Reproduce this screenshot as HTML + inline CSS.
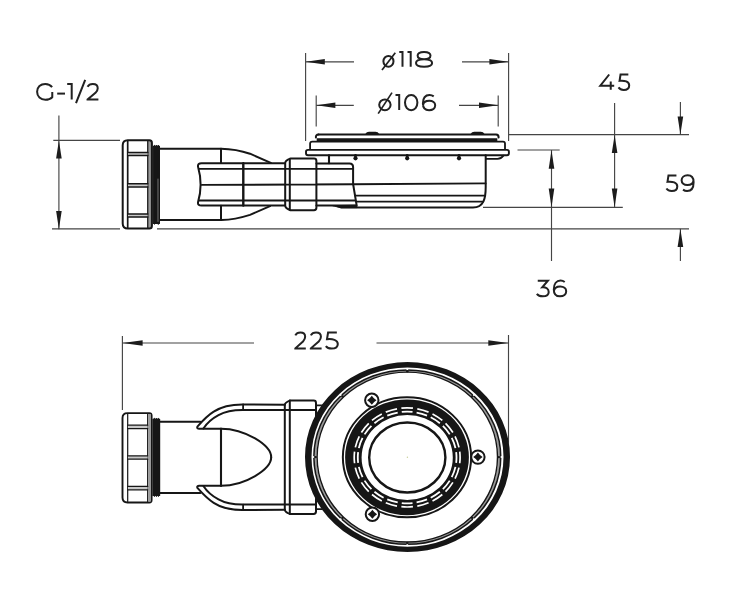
<!DOCTYPE html>
<html><head><meta charset="utf-8"><title>Drawing</title>
<style>html,body{margin:0;padding:0;background:#fff}svg{display:block}text{font-family:"Liberation Sans",sans-serif}</style>
</head><body>
<svg width="732" height="600" viewBox="0 0 732 600">
<defs><filter id="soft" x="0" y="0" width="732" height="600" filterUnits="userSpaceOnUse"><feGaussianBlur stdDeviation="0.45"/></filter></defs>
<rect width="732" height="600" fill="#fff"/>
<g filter="url(#soft)">
<rect width="732" height="600" fill="#fff"/>
<path d="M 52.11,87.06 C 50.53,85.01 48.16,83.90 45.32,83.90 C 40.58,83.90 37.10,87.06 37.10,91.80 C 37.10,96.54 40.58,99.70 45.32,99.70 C 48.16,99.70 50.69,98.75 52.27,97.17 V 92.12" fill="none" stroke="#202020" stroke-width="2.0" stroke-linejoin="miter" stroke-linecap="butt"/>
<line x1="57.2" y1="93.6" x2="65" y2="93.6" stroke="#202020" stroke-width="2.0"/>
<path d="M 67.20,84.10 H 71.70 V 99.60" fill="none" stroke="#202020" stroke-width="2.0" stroke-linejoin="miter" stroke-linecap="butt"/>
<line x1="76" y1="103.2" x2="85.2" y2="79.8" stroke="#202020" stroke-width="2.0"/>
<path d="M 87.54,86.73 C 88.54,84.84 90.34,83.90 92.80,83.90 C 95.71,83.90 97.73,85.47 97.73,88.14 C 97.73,89.87 97.06,91.12 95.49,92.85 L 87.54,99.44 V 99.60 H 98.40" fill="none" stroke="#202020" stroke-width="2.0" stroke-linejoin="miter" stroke-linecap="butt"/>
<ellipse cx="388.45" cy="61.3" rx="5.050000000000011" ry="5.400000000000002" fill="none" stroke="#202020" stroke-width="2.0"/><line x1="382" y1="70" x2="395.3" y2="52.8" stroke="#202020" stroke-width="1.7"/>
<path d="M 399.30,52.00 H 402.50 V 66.70" fill="none" stroke="#202020" stroke-width="2.0" stroke-linejoin="miter" stroke-linecap="butt"/>
<path d="M 407.50,52.00 H 410.70 V 66.70" fill="none" stroke="#202020" stroke-width="2.0" stroke-linejoin="miter" stroke-linecap="butt"/>
<path d="M 424.05,51.90 C 427.91,51.90 430.49,53.39 430.49,55.62 C 430.49,57.86 427.91,59.20 424.05,59.20 C 420.19,59.20 417.61,57.86 417.61,55.62 C 417.61,53.39 420.19,51.90 424.05,51.90 Z M 424.05,59.20 C 428.88,59.20 432.10,60.54 432.10,63.07 C 432.10,65.46 428.88,66.80 424.05,66.80 C 419.22,66.80 416.00,65.46 416.00,63.07 C 416.00,60.54 419.22,59.20 424.05,59.20 Z" fill="none" stroke="#202020" stroke-width="2.0" stroke-linejoin="miter" stroke-linecap="butt"/>
<ellipse cx="384.9" cy="104.80000000000001" rx="5.700000000000017" ry="5.399999999999999" fill="none" stroke="#202020" stroke-width="2.0"/><line x1="378.2" y1="113.6" x2="392" y2="92.6" stroke="#202020" stroke-width="1.7"/>
<path d="M 395.50,95.10 H 399.20 V 110.10" fill="none" stroke="#202020" stroke-width="2.0" stroke-linejoin="miter" stroke-linecap="butt"/>
<path d="M 411.20,95.00 C 414.67,95.00 417.40,98.04 417.40,102.60 C 417.40,107.16 414.67,110.20 411.20,110.20 C 407.73,110.20 405.00,107.16 405.00,102.60 C 405.00,98.04 407.73,95.00 411.20,95.00 Z" fill="none" stroke="#202020" stroke-width="2.0" stroke-linejoin="miter" stroke-linecap="butt"/>
<path d="M 433.72,96.37 C 432.49,95.46 431.02,95.00 429.54,95.00 C 425.61,95.00 422.90,98.04 422.90,103.51 C 422.90,107.77 425.36,110.20 429.05,110.20 C 432.74,110.20 435.20,108.22 435.20,105.34 C 435.20,102.60 432.74,100.78 429.30,100.78 C 425.85,100.78 423.27,102.60 423.02,105.34" fill="none" stroke="#202020" stroke-width="2.0" stroke-linejoin="miter" stroke-linecap="butt"/>
<path d="M 609.20,74.50 L 600.30,85.67 H 614.20 M 610.73,81.39 V 89.80" fill="none" stroke="#202020" stroke-width="2.0" stroke-linejoin="miter" stroke-linecap="butt"/>
<path d="M 628.34,74.50 H 620.53 L 619.57,80.81 C 624.49,80.20 629.20,81.58 629.20,85.43 C 629.20,88.36 626.85,89.90 623.64,89.90 C 621.50,89.90 619.57,88.98 618.50,87.44" fill="none" stroke="#202020" stroke-width="2.0" stroke-linejoin="miter" stroke-linecap="butt"/>
<path d="M 676.43,175.40 H 668.47 L 667.49,181.80 C 672.50,181.17 677.30,182.58 677.30,186.48 C 677.30,189.44 674.90,191.00 671.63,191.00 C 669.45,191.00 667.49,190.06 666.40,188.50" fill="none" stroke="#202020" stroke-width="2.0" stroke-linejoin="miter" stroke-linecap="butt"/>
<path d="M 683.04,189.59 C 684.24,190.53 685.68,191.00 687.12,191.00 C 690.96,191.00 693.60,187.86 693.60,182.21 C 693.60,177.81 691.20,175.30 687.60,175.30 C 684.00,175.30 681.60,177.34 681.60,180.32 C 681.60,183.15 684.00,185.03 687.36,185.03 C 690.72,185.03 693.24,183.15 693.48,180.32" fill="none" stroke="#202020" stroke-width="2.0" stroke-linejoin="miter" stroke-linecap="butt"/>
<path d="M 537.75,280.70 H 547.87 L 542.27,287.25 C 545.84,286.94 548.70,288.66 548.70,291.93 C 548.70,294.74 546.08,296.30 542.75,296.30 C 540.13,296.30 537.99,295.36 536.80,293.80" fill="none" stroke="#202020" stroke-width="2.0" stroke-linejoin="miter" stroke-linecap="butt"/>
<path d="M 564.71,282.01 C 563.47,281.07 561.98,280.60 560.50,280.60 C 556.53,280.60 553.80,283.74 553.80,289.39 C 553.80,293.79 556.28,296.30 560.00,296.30 C 563.72,296.30 566.20,294.26 566.20,291.28 C 566.20,288.45 563.72,286.57 560.25,286.57 C 556.78,286.57 554.17,288.45 553.92,291.28" fill="none" stroke="#202020" stroke-width="2.0" stroke-linejoin="miter" stroke-linecap="butt"/>
<path d="M 295.32,335.38 C 296.30,333.46 298.02,332.50 300.40,332.50 C 303.21,332.50 305.15,334.10 305.15,336.82 C 305.15,338.58 304.50,339.86 302.99,341.62 L 295.32,348.34 V 348.50 H 305.80" fill="none" stroke="#202020" stroke-width="2.0" stroke-linejoin="miter" stroke-linecap="butt"/>
<path d="M 310.83,335.38 C 311.83,333.46 313.61,332.50 316.05,332.50 C 318.94,332.50 320.93,334.10 320.93,336.82 C 320.93,338.58 320.27,339.86 318.71,341.62 L 310.83,348.34 V 348.50 H 321.60" fill="none" stroke="#202020" stroke-width="2.0" stroke-linejoin="miter" stroke-linecap="butt"/>
<path d="M 336.84,332.60 H 328.08 L 327.00,339.16 C 332.52,338.52 337.80,339.96 337.80,343.96 C 337.80,347.00 335.16,348.60 331.56,348.60 C 329.16,348.60 327.00,347.64 325.80,346.04" fill="none" stroke="#202020" stroke-width="2.0" stroke-linejoin="miter" stroke-linecap="butt"/>
<line x1="58.9" y1="115.4" x2="58.9" y2="229.3" stroke="#454545" stroke-width="1.15" />
<line x1="53.3" y1="140.4" x2="120" y2="140.4" stroke="#454545" stroke-width="1.15" />
<line x1="52" y1="228.8" x2="120" y2="228.8" stroke="#454545" stroke-width="1.15" />
<polygon points="58.9,140.6 56.1,158.6 61.699999999999996,158.6" fill="#1c1c1c"/>
<polygon points="58.9,229 56.1,211 61.699999999999996,211" fill="#1c1c1c"/>
<line x1="157" y1="228.8" x2="689" y2="228.8" stroke="#454545" stroke-width="1.15" />
<line x1="305.6" y1="53" x2="305.6" y2="141" stroke="#454545" stroke-width="1.15" />
<line x1="508.6" y1="53" x2="508.6" y2="141" stroke="#454545" stroke-width="1.15" />
<line x1="305.6" y1="61.8" x2="354" y2="61.8" stroke="#454545" stroke-width="1.15" />
<line x1="462" y1="61.8" x2="508.6" y2="61.8" stroke="#454545" stroke-width="1.15" />
<polygon points="305.8,61.8 324.8,59.0 324.8,64.6" fill="#1c1c1c"/>
<polygon points="508.4,61.8 489.4,59.0 489.4,64.6" fill="#1c1c1c"/>
<line x1="316.2" y1="95.5" x2="316.2" y2="126.5" stroke="#454545" stroke-width="1.15" />
<line x1="498.2" y1="95.5" x2="498.2" y2="126.5" stroke="#454545" stroke-width="1.15" />
<line x1="316.2" y1="105.3" x2="353.8" y2="105.3" stroke="#454545" stroke-width="1.15" />
<line x1="459" y1="105.3" x2="498.2" y2="105.3" stroke="#454545" stroke-width="1.15" />
<polygon points="316.4,105.3 335.4,102.5 335.4,108.1" fill="#1c1c1c"/>
<polygon points="498,105.3 479,102.5 479,108.1" fill="#1c1c1c"/>
<line x1="509" y1="134.6" x2="689" y2="134.6" stroke="#454545" stroke-width="1.15" />
<line x1="517.5" y1="150" x2="559.7" y2="150" stroke="#454545" stroke-width="1.15" />
<line x1="483" y1="207.4" x2="622.8" y2="207.4" stroke="#454545" stroke-width="1.15" />
<line x1="551.5" y1="150" x2="551.5" y2="261" stroke="#454545" stroke-width="1.15" />
<polygon points="551.5,150.2 548.7,168.79999999999998 554.3,168.79999999999998" fill="#1c1c1c"/>
<polygon points="551.5,207.2 548.7,188.6 554.3,188.6" fill="#1c1c1c"/>
<line x1="614.6" y1="103" x2="614.6" y2="207.4" stroke="#454545" stroke-width="1.15" />
<polygon points="614.6,134.9 611.8000000000001,152.9 617.4,152.9" fill="#1c1c1c"/>
<polygon points="614.6,207.2 611.8000000000001,188.6 617.4,188.6" fill="#1c1c1c"/>
<line x1="680.4" y1="102" x2="680.4" y2="134.6" stroke="#454545" stroke-width="1.15" />
<line x1="680.4" y1="228.8" x2="680.4" y2="261" stroke="#454545" stroke-width="1.15" />
<polygon points="680.4,134.4 677.6,116.4 683.1999999999999,116.4" fill="#1c1c1c"/>
<polygon points="680.4,229 677.6,247 683.1999999999999,247" fill="#1c1c1c"/>
<line x1="122.4" y1="336" x2="122.4" y2="410" stroke="#454545" stroke-width="1.15" />
<line x1="508.5" y1="335" x2="508.5" y2="458" stroke="#454545" stroke-width="1.15" />
<line x1="122.4" y1="343" x2="254" y2="343" stroke="#454545" stroke-width="1.15" />
<line x1="376.5" y1="343" x2="508.5" y2="343" stroke="#454545" stroke-width="1.15" />
<polygon points="122.6,343 142.6,340.2 142.6,345.8" fill="#1c1c1c"/>
<polygon points="508.3,343 488.3,340.2 488.3,345.8" fill="#1c1c1c"/>
<rect x="148.3" y="141" width="2.8" height="87" fill="#9a9a9a"/>
<path d="M127.7,140.2 H149.4 Q151.9,140.2 151.9,142.7 V226 Q151.9,228.5 149.4,228.5 H127.7 Q122.7,228.5 122.7,223.5 V145.2 Q122.7,140.2 127.7,140.2 Z" stroke="#161616" stroke-width="2" fill="none" stroke-linecap="round" stroke-linejoin="round" />
<path d="M127.7,141 V227.7" stroke="#161616" stroke-width="1.7" fill="none" stroke-linecap="round" stroke-linejoin="round" />
<path d="M147.8,141 V227.7" stroke="#161616" stroke-width="1.4" fill="none" stroke-linecap="round" stroke-linejoin="round" />
<rect x="128" y="152.6" width="19.6" height="3" fill="#c8c8c8"/>
<rect x="128" y="183.6" width="19.6" height="3" fill="#c8c8c8"/>
<rect x="128" y="214.1" width="19.6" height="3" fill="#c8c8c8"/>
<path d="M127.7,152.6 H147.8" stroke="#161616" stroke-width="1.5" fill="none" stroke-linecap="round" stroke-linejoin="round" />
<path d="M127.7,155.4 H147.8" stroke="#161616" stroke-width="1.5" fill="none" stroke-linecap="round" stroke-linejoin="round" />
<path d="M127.7,183.8 H147.8" stroke="#161616" stroke-width="1.5" fill="none" stroke-linecap="round" stroke-linejoin="round" />
<path d="M127.7,187 H147.8" stroke="#161616" stroke-width="1.5" fill="none" stroke-linecap="round" stroke-linejoin="round" />
<path d="M127.7,214.1 H147.8" stroke="#161616" stroke-width="1.5" fill="none" stroke-linecap="round" stroke-linejoin="round" />
<path d="M127.7,217 H147.8" stroke="#161616" stroke-width="1.5" fill="none" stroke-linecap="round" stroke-linejoin="round" />
<path d="M153.3,146.3 H159.4 V223.3 H153.3 Z" stroke="#161616" stroke-width="1.2" fill="#161616" stroke-linecap="round" stroke-linejoin="round" />
<path d="M158,179 V221.5" stroke="#8a8a8a" stroke-width="0.8" fill="none" stroke-linecap="round" stroke-linejoin="round" />
<path d="M153.6,146.3 L154.6,145.3 L155.6,146.3 L156.6,145.3 L157.6,146.3 L158.4,145.3 L159.2,146.3 M153.6,223.3 L154.6,224.2 L155.6,223.3 M157.4,223.3 L158.3,224.4 L159.2,223.3" stroke="#161616" stroke-width="1" fill="#161616" stroke-linecap="round" stroke-linejoin="round" />
<path d="M160,148.7 H221 C232,148.9 241,150.6 250,153.7 L270.8,162.9" stroke="#161616" stroke-width="2" fill="none" stroke-linecap="round" stroke-linejoin="round" />
<path d="M160,220 H221.5 C232,219.8 241,217.8 250,214.9 L270,206.2" stroke="#161616" stroke-width="2" fill="none" stroke-linecap="round" stroke-linejoin="round" />
<path d="M221,148.7 V163 M221,205.8 V220" stroke="#161616" stroke-width="2" fill="none" stroke-linecap="round" stroke-linejoin="round" />
<path d="M285.2,163.2 H201.5 Q197.6,163.2 198,166.5 Q203.2,185 198,202.3 Q197.6,205.6 201.5,205.6 H285.2" stroke="#161616" stroke-width="2" fill="none" stroke-linecap="round" stroke-linejoin="round" />
<path d="M199,168.9 H352.5" stroke="#161616" stroke-width="1.8" fill="none" stroke-linecap="round" stroke-linejoin="round" />
<path d="M201.8,184.9 L353,184.3 L485.6,183.4" stroke="#161616" stroke-width="1.9" fill="none" stroke-linecap="round" stroke-linejoin="round" />
<path d="M199,200.5 H355" stroke="#161616" stroke-width="1.8" fill="none" stroke-linecap="round" stroke-linejoin="round" />
<path d="M243.3,163.2 V205.6" stroke="#161616" stroke-width="2.4" fill="none" stroke-linecap="round" stroke-linejoin="round" />
<path d="M290.4,158.6 H314 Q316.4,158.6 316.4,161 V207.8 Q316.4,210.2 314,210.2 H290.4 Q285.2,208.5 285.2,205.6 V163.2 Q285.2,160.3 290.4,158.6 Z" stroke="#161616" stroke-width="2" fill="#fff" stroke-linecap="round" stroke-linejoin="round" />
<path d="M289.8,158.8 V210" stroke="#161616" stroke-width="2" fill="none" stroke-linecap="round" stroke-linejoin="round" />
<path d="M285.2,168.9 H316.4 M285.2,184.7 H316.4 M285.2,200.5 H316.4" stroke="#161616" stroke-width="1.8" fill="none" stroke-linecap="round" stroke-linejoin="round" />
<path d="M316.4,163.5 H349.5 Q353.1,163.5 353.1,167 V184 L356.7,205.6 H316.4" stroke="#161616" stroke-width="2" fill="none" stroke-linecap="round" stroke-linejoin="round" />
<path d="M333,205.7 C336,206 337.5,207.6 341,207.6 H357 L356.7,205.6 Z" stroke="#161616" stroke-width="1" fill="#161616" stroke-linecap="round" stroke-linejoin="round" />
<path d="M318.5,134.5 H496 Q498.7,134.6 498.6,137.5" stroke="#161616" stroke-width="2" fill="none" stroke-linecap="round" stroke-linejoin="round" />
<path d="M318.5,134.5 Q315.6,134.6 315.9,137.5" stroke="#161616" stroke-width="2" fill="none" stroke-linecap="round" stroke-linejoin="round" />
<path d="M316.7,140.2 H497.3" stroke="#161616" stroke-width="3.8" fill="none" stroke-linecap="round" stroke-linejoin="round" style="stroke-linecap:butt"/>
<path d="M365.3,134 Q366.5,131.8 369,131.8 H375.5 Q378,131.8 379.2,134 Z" fill="#161616"/>
<path d="M470.6,134 Q471.8,131.8 474.3,131.8 H480.8 Q483.3,131.8 484.5,134 Z" fill="#161616"/>
<path d="M310.1,149.9 V143.6 Q310.1,141.6 312.3,141.6 H503 Q505,141.6 505,143.6 V149.9" stroke="#161616" stroke-width="1.8" fill="none" stroke-linecap="round" stroke-linejoin="round" />
<path d="M308,149.9 H507 Q508.9,149.9 508.9,151.8 V153.3 Q508.9,155.2 507,155.2 H308 Q306,155.2 306,153.3 V151.8 Q306,149.9 308,149.9 Z" stroke="#161616" stroke-width="1.9" fill="#fff" stroke-linecap="round" stroke-linejoin="round" />
<path d="M329,155.2 V163.3" stroke="#161616" stroke-width="2.1" fill="none" stroke-linecap="round" stroke-linejoin="round" />
<path d="M486,158.8 H497.5 C500,158.8 502,157.5 503.5,155.6" stroke="#161616" stroke-width="1.7" fill="none" stroke-linecap="round" stroke-linejoin="round" />
<path d="M355.5,155.2 V158" stroke="#161616" stroke-width="2.6" fill="none" stroke-linecap="round" stroke-linejoin="round" />
<circle cx="355.5" cy="158.3" r="2.1" fill="#161616"/>
<path d="M407.2,155.2 V158" stroke="#161616" stroke-width="2.6" fill="none" stroke-linecap="round" stroke-linejoin="round" />
<circle cx="407.2" cy="158.3" r="2.1" fill="#161616"/>
<path d="M459,155.2 V158" stroke="#161616" stroke-width="2.6" fill="none" stroke-linecap="round" stroke-linejoin="round" />
<circle cx="459" cy="158.3" r="2.1" fill="#161616"/>
<path d="M485.7,155.2 V187 C485.7,198 484,207.4 473,207.4 H341" stroke="#161616" stroke-width="2" fill="none" stroke-linecap="round" stroke-linejoin="round" />
<path d="M355.2,195.6 H484.4" stroke="#161616" stroke-width="1.9" fill="none" stroke-linecap="round" stroke-linejoin="round" />
<path d="M356.3,201.7 H482.7" stroke="#161616" stroke-width="1.8" fill="none" stroke-linecap="round" stroke-linejoin="round" />
<path d="M127.5,413.1 H149.3 Q151.6,413.1 151.6,415.6 V500 Q151.6,502.5 149.3,502.5 H127.5 Q122.5,502.5 122.5,497.5 V418.1 Q122.5,413.1 127.5,413.1 Z" stroke="#161616" stroke-width="1.9" fill="none" stroke-linecap="round" stroke-linejoin="round" />
<path d="M127.7,414 V501.5" stroke="#161616" stroke-width="1.2" fill="none" stroke-linecap="round" stroke-linejoin="round" />
<path d="M147.7,414 V501.5" stroke="#161616" stroke-width="1.3" fill="none" stroke-linecap="round" stroke-linejoin="round" />
<rect x="148.3" y="414" width="2.6" height="87.6" fill="#9a9a9a"/>
<rect x="128" y="425.2" width="19.6" height="3.4" fill="#c8c8c8"/>
<rect x="128" y="455.8" width="19.6" height="3.4" fill="#c8c8c8"/>
<rect x="128" y="486.4" width="19.6" height="3.4" fill="#c8c8c8"/>
<path d="M127.7,425.2 H147.7" stroke="#161616" stroke-width="1.3" fill="none" stroke-linecap="round" stroke-linejoin="round" />
<path d="M127.7,428.6 H147.7" stroke="#161616" stroke-width="1.3" fill="none" stroke-linecap="round" stroke-linejoin="round" />
<path d="M127.7,455.8 H147.7" stroke="#161616" stroke-width="1.3" fill="none" stroke-linecap="round" stroke-linejoin="round" />
<path d="M127.7,459.2 H147.7" stroke="#161616" stroke-width="1.3" fill="none" stroke-linecap="round" stroke-linejoin="round" />
<path d="M127.7,486.4 H147.7" stroke="#161616" stroke-width="1.3" fill="none" stroke-linecap="round" stroke-linejoin="round" />
<path d="M127.7,489.8 H147.7" stroke="#161616" stroke-width="1.3" fill="none" stroke-linecap="round" stroke-linejoin="round" />
<path d="M153,419.3 H159.6 V495.5 H153 Z" stroke="#161616" stroke-width="1.2" fill="#161616" stroke-linecap="round" stroke-linejoin="round" />
<path d="M153.4,419.3 L154.4,418.3 L155.4,419.3 L156.4,418.3 L157.4,419.3 L158.4,418.3 L159.4,419.3 M153.4,495.5 L154.4,496.5 L155.4,495.5 L156.4,496.5 L157.4,495.5 L158.4,496.5 L159.4,495.5" stroke="#161616" stroke-width="1" fill="#161616" stroke-linecap="round" stroke-linejoin="round" />
<path d="M160,421.7 H200.3 M160,492.9 H200.3" stroke="#161616" stroke-width="2" fill="none" stroke-linecap="round" stroke-linejoin="round" />
<path d="M285,404.70 L242.4,404.50 C233,404.50 222,406.20 213.7,411.70 C208,415.20 200.8,422.80 197.4,426.60 Q196.6,428.60 199.2,428.70 L221,428.70" stroke="#161616" stroke-width="2" fill="none" stroke-linecap="round" stroke-linejoin="round" />
<path d="M316,409.90 L242.4,409.90 C234,409.90 225.5,411.20 218.5,415.10 C212.5,418.30 206,424.50 203.4,428.50" stroke="#161616" stroke-width="2" fill="none" stroke-linecap="round" stroke-linejoin="round" />
<path d="M243.1,404.50 L243.1,409.90" stroke="#161616" stroke-width="1.8" fill="none" stroke-linecap="round" stroke-linejoin="round" />
<path d="M221,428.70 C245,428.70 271.2,445.25 271.2,457.25" stroke="#161616" stroke-width="2" fill="none" stroke-linecap="round" stroke-linejoin="round" />
<path d="M316,405.40 L323.5,405.40" stroke="#161616" stroke-width="1.8" fill="none" stroke-linecap="round" stroke-linejoin="round" />
<path d="M285,509.80 L242.4,510.00 C233,510.00 222,508.30 213.7,502.80 C208,499.30 200.8,491.70 197.4,487.90 Q196.6,485.90 199.2,485.80 L221,485.80" stroke="#161616" stroke-width="2" fill="none" stroke-linecap="round" stroke-linejoin="round" />
<path d="M316,504.60 L242.4,504.60 C234,504.60 225.5,503.30 218.5,499.40 C212.5,496.20 206,490.00 203.4,486.00" stroke="#161616" stroke-width="2" fill="none" stroke-linecap="round" stroke-linejoin="round" />
<path d="M243.1,510.00 L243.1,504.60" stroke="#161616" stroke-width="1.8" fill="none" stroke-linecap="round" stroke-linejoin="round" />
<path d="M221,485.80 C245,485.80 271.2,469.25 271.2,457.25" stroke="#161616" stroke-width="2" fill="none" stroke-linecap="round" stroke-linejoin="round" />
<path d="M316,509.10 L323.5,509.10" stroke="#161616" stroke-width="1.8" fill="none" stroke-linecap="round" stroke-linejoin="round" />
<path d="M221,428.7 V485.8" stroke="#161616" stroke-width="2.1" fill="none" stroke-linecap="round" stroke-linejoin="round" />
<path d="M289.8,400.6 H313.6 Q316,400.6 316,403 V511.5 Q316,513.9 313.6,513.9 H289.8 Q284.8,512 284.8,509.5 V405 Q284.8,402.5 289.8,400.6 Z" stroke="#161616" stroke-width="2" fill="none" stroke-linecap="round" stroke-linejoin="round" />
<path d="M289.8,400.6 V513.9" stroke="#161616" stroke-width="2" fill="none" stroke-linecap="round" stroke-linejoin="round" />
<ellipse cx="407.5" cy="457.1" rx="102" ry="94.6" fill="#fff"/>
<path d="M305.0,457.1 A102.5,95 0 1 0 510.0,457.1 A102.5,95 0 1 0 305.0,457.1 Z M311.5,457.1 A96,89.6 0 1 0 503.5,457.1 A96,89.6 0 1 0 311.5,457.1 Z" fill="#161616" fill-rule="evenodd"/>
<ellipse cx="407.3" cy="457.1" rx="91.8" ry="86.05" fill="none" stroke="#9c9c9c" stroke-width="2"/>
<ellipse cx="407.3" cy="457.1" rx="93.4" ry="87.15" fill="none" stroke="#161616" stroke-width="1.6"/>
<ellipse cx="407.3" cy="457.1" rx="90.2" ry="84.95" fill="none" stroke="#161616" stroke-width="1.4"/>
<circle cx="501.50" cy="457.10" r="1.0" fill="#fff"/>
<circle cx="498.90" cy="457.10" r="1.2" fill="#161616"/>
<circle cx="473.91" cy="519.25" r="1.0" fill="#fff"/>
<circle cx="472.07" cy="517.84" r="1.2" fill="#161616"/>
<circle cx="407.30" cy="545.00" r="1.0" fill="#fff"/>
<circle cx="407.30" cy="543.00" r="1.2" fill="#161616"/>
<circle cx="340.69" cy="519.25" r="1.0" fill="#fff"/>
<circle cx="342.53" cy="517.84" r="1.2" fill="#161616"/>
<circle cx="313.10" cy="457.10" r="1.0" fill="#fff"/>
<circle cx="315.70" cy="457.10" r="1.2" fill="#161616"/>
<circle cx="340.69" cy="394.95" r="1.0" fill="#fff"/>
<circle cx="342.53" cy="396.36" r="1.2" fill="#161616"/>
<circle cx="407.30" cy="369.20" r="1.0" fill="#fff"/>
<circle cx="407.30" cy="371.20" r="1.2" fill="#161616"/>
<circle cx="473.91" cy="394.95" r="1.0" fill="#fff"/>
<circle cx="472.07" cy="396.36" r="1.2" fill="#161616"/>
<ellipse cx="407.0" cy="457.3" rx="64.15" ry="60" fill="none" stroke="#161616" stroke-width="2"/>
<path d="M345.1,457.3 A61.9,57.9 0 1 0 468.9,457.3 A61.9,57.9 0 1 0 345.1,457.3 Z M361.59999999999997,457.5 A45.6,42.5 0 1 0 452.8,457.5 A45.6,42.5 0 1 0 361.59999999999997,457.5 Z" fill="#161616" fill-rule="evenodd"/>
<ellipse cx="407.15" cy="457.45" rx="52.95" ry="49.55" fill="none" stroke="#fff" stroke-width="1.7" pathLength="200" stroke-dasharray="7.3 2.7" stroke-dashoffset="3.65"/>
<ellipse cx="407.15" cy="457.5" rx="49.35" ry="45.8" fill="none" stroke="#fff" stroke-width="1.8" pathLength="200" stroke-dasharray="7.3 2.7" stroke-dashoffset="3.65"/>
<ellipse cx="407.3" cy="457.5" rx="38.1" ry="35" fill="none" stroke="#161616" stroke-width="2.4"/>
<circle cx="371.8" cy="400.2" r="6.7" fill="#fff" stroke="#161616" stroke-width="2"/>
<path d="M367.1,400.2 Q370.0,398.4 371.8,395.7 Q373.6,398.4 376.5,400.2 Q373.6,402.0 371.8,404.7 Q370.0,402.0 367.1,400.2 Z" fill="#161616"/>
<circle cx="477.9" cy="457.1" r="6.7" fill="#fff" stroke="#161616" stroke-width="2"/>
<path d="M473.2,457.1 Q476.09999999999997,455.3 477.9,452.6 Q479.7,455.3 482.59999999999997,457.1 Q479.7,458.90000000000003 477.9,461.6 Q476.09999999999997,458.90000000000003 473.2,457.1 Z" fill="#161616"/>
<circle cx="372.4" cy="514.3" r="6.7" fill="#fff" stroke="#161616" stroke-width="2"/>
<path d="M367.7,514.3 Q370.59999999999997,512.5 372.4,509.79999999999995 Q374.2,512.5 377.09999999999997,514.3 Q374.2,516.0999999999999 372.4,518.8 Q370.59999999999997,516.0999999999999 367.7,514.3 Z" fill="#161616"/>
<circle cx="407.4" cy="457.3" r="0.7" fill="#c9cf9a"/>
</g>
</svg>
</body></html>
